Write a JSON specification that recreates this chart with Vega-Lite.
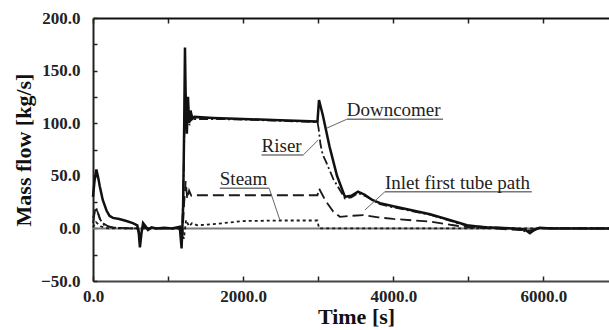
{
  "$schema": "https://vega.github.io/schema/vega-lite/v6.json",
  "width": 516,
  "height": 263,
  "autosize": "none",
  "padding": {"left": 93, "top": 18, "right": 0, "bottom": 49},
  "background": "white",
  "config": {
    "view": {"stroke": null},
    "font": "Liberation Serif",
    "axis": {
      "labelFont": "Liberation Serif",
      "titleFont": "Liberation Serif",
      "labelFontWeight": "bold",
      "titleFontWeight": "bold",
      "labelColor": "#222",
      "titleColor": "#111",
      "domainColor": "#222",
      "domainWidth": 2,
      "tickColor": "#222",
      "tickWidth": 1.5,
      "grid": false,
      "labelFlush": false,
      "labelOverlap": false
    }
  },
  "datasets": {
    "series": [
      {"t": 0, "v": 30, "s": "Downcomer"}, {"t": 20, "v": 45, "s": "Downcomer"}, {"t": 45, "v": 56, "s": "Downcomer"}, {"t": 70, "v": 48, "s": "Downcomer"}, {"t": 90, "v": 40, "s": "Downcomer"}, {"t": 130, "v": 27, "s": "Downcomer"}, {"t": 180, "v": 17, "s": "Downcomer"}, {"t": 220, "v": 12, "s": "Downcomer"}, {"t": 265, "v": 10, "s": "Downcomer"}, {"t": 350, "v": 9, "s": "Downcomer"}, {"t": 445, "v": 7, "s": "Downcomer"}, {"t": 530, "v": 5, "s": "Downcomer"}, {"t": 590, "v": 3, "s": "Downcomer"}, {"t": 610, "v": -5, "s": "Downcomer"}, {"t": 625, "v": -18, "s": "Downcomer"}, {"t": 645, "v": -5, "s": "Downcomer"}, {"t": 667, "v": 5, "s": "Downcomer"}, {"t": 700, "v": 2, "s": "Downcomer"}, {"t": 733, "v": -1.5, "s": "Downcomer"}, {"t": 780, "v": 1, "s": "Downcomer"}, {"t": 844, "v": 0, "s": "Downcomer"}, {"t": 950, "v": 0.5, "s": "Downcomer"}, {"t": 1050, "v": 0, "s": "Downcomer"}, {"t": 1156, "v": 1.5, "s": "Downcomer"}, {"t": 1180, "v": -19, "s": "Downcomer"}, {"t": 1200, "v": 20, "s": "Downcomer"}, {"t": 1215, "v": 100, "s": "Downcomer"}, {"t": 1225, "v": 172, "s": "Downcomer"}, {"t": 1235, "v": 120, "s": "Downcomer"}, {"t": 1250, "v": 90, "s": "Downcomer"}, {"t": 1265, "v": 125, "s": "Downcomer"}, {"t": 1280, "v": 100, "s": "Downcomer"}, {"t": 1300, "v": 112, "s": "Downcomer"}, {"t": 1320, "v": 104, "s": "Downcomer"}, {"t": 1350, "v": 106, "s": "Downcomer"}, {"t": 1600, "v": 105, "s": "Downcomer"}, {"t": 2000, "v": 104, "s": "Downcomer"}, {"t": 2400, "v": 103, "s": "Downcomer"}, {"t": 2800, "v": 102, "s": "Downcomer"}, {"t": 2990, "v": 101.5, "s": "Downcomer"}, {"t": 3010, "v": 122, "s": "Downcomer"}, {"t": 3060, "v": 108, "s": "Downcomer"}, {"t": 3150, "v": 78, "s": "Downcomer"}, {"t": 3250, "v": 50, "s": "Downcomer"}, {"t": 3356, "v": 30, "s": "Downcomer"}, {"t": 3440, "v": 31, "s": "Downcomer"}, {"t": 3530, "v": 35, "s": "Downcomer"}, {"t": 3620, "v": 32, "s": "Downcomer"}, {"t": 3720, "v": 27, "s": "Downcomer"}, {"t": 3823, "v": 24, "s": "Downcomer"}, {"t": 4000, "v": 21, "s": "Downcomer"}, {"t": 4200, "v": 18, "s": "Downcomer"}, {"t": 4490, "v": 13.5, "s": "Downcomer"}, {"t": 4750, "v": 8, "s": "Downcomer"}, {"t": 4982, "v": 3, "s": "Downcomer"}, {"t": 5200, "v": 1, "s": "Downcomer"}, {"t": 5596, "v": 0, "s": "Downcomer"}, {"t": 5750, "v": -1, "s": "Downcomer"}, {"t": 5820, "v": -4.5, "s": "Downcomer"}, {"t": 5880, "v": -1, "s": "Downcomer"}, {"t": 5950, "v": 0.5, "s": "Downcomer"}, {"t": 6100, "v": 0, "s": "Downcomer"}, {"t": 6873, "v": 0, "s": "Downcomer"},

      {"t": 0, "v": 10, "s": "Riser"}, {"t": 40, "v": 20, "s": "Riser"}, {"t": 70, "v": 14, "s": "Riser"}, {"t": 100, "v": 8, "s": "Riser"}, {"t": 150, "v": 3, "s": "Riser"}, {"t": 250, "v": 1, "s": "Riser"}, {"t": 400, "v": 0, "s": "Riser"}, {"t": 600, "v": 0, "s": "Riser"}, {"t": 625, "v": -8, "s": "Riser"}, {"t": 660, "v": 2, "s": "Riser"}, {"t": 700, "v": 0, "s": "Riser"}, {"t": 1150, "v": 0, "s": "Riser"}, {"t": 1185, "v": -12, "s": "Riser"}, {"t": 1210, "v": 60, "s": "Riser"}, {"t": 1228, "v": 140, "s": "Riser"}, {"t": 1245, "v": 95, "s": "Riser"}, {"t": 1265, "v": 118, "s": "Riser"}, {"t": 1285, "v": 98, "s": "Riser"}, {"t": 1310, "v": 108, "s": "Riser"}, {"t": 1350, "v": 104, "s": "Riser"}, {"t": 1600, "v": 104, "s": "Riser"}, {"t": 2000, "v": 103.5, "s": "Riser"}, {"t": 2400, "v": 102.5, "s": "Riser"}, {"t": 2800, "v": 101.5, "s": "Riser"}, {"t": 2990, "v": 101, "s": "Riser"}, {"t": 3005, "v": 95, "s": "Riser"}, {"t": 3030, "v": 80, "s": "Riser"}, {"t": 3060, "v": 70, "s": "Riser"}, {"t": 3100, "v": 64, "s": "Riser"}, {"t": 3200, "v": 47, "s": "Riser"}, {"t": 3356, "v": 28.5, "s": "Riser"}, {"t": 3440, "v": 29.5, "s": "Riser"}, {"t": 3530, "v": 33.5, "s": "Riser"}, {"t": 3620, "v": 31, "s": "Riser"}, {"t": 3823, "v": 23, "s": "Riser"}, {"t": 4000, "v": 20, "s": "Riser"}, {"t": 4490, "v": 13, "s": "Riser"}, {"t": 4982, "v": 2.5, "s": "Riser"}, {"t": 5596, "v": 0, "s": "Riser"}, {"t": 5820, "v": -4, "s": "Riser"}, {"t": 5950, "v": 0.5, "s": "Riser"}, {"t": 6873, "v": 0, "s": "Riser"},

      {"t": 0, "v": 5, "s": "Inlet first tube path"}, {"t": 30, "v": 19, "s": "Inlet first tube path"}, {"t": 60, "v": 16, "s": "Inlet first tube path"}, {"t": 90, "v": 9, "s": "Inlet first tube path"}, {"t": 130, "v": 5, "s": "Inlet first tube path"}, {"t": 200, "v": 2, "s": "Inlet first tube path"}, {"t": 300, "v": 0.5, "s": "Inlet first tube path"}, {"t": 600, "v": 0, "s": "Inlet first tube path"}, {"t": 630, "v": -6, "s": "Inlet first tube path"}, {"t": 670, "v": 2, "s": "Inlet first tube path"}, {"t": 720, "v": 0, "s": "Inlet first tube path"}, {"t": 1170, "v": 0, "s": "Inlet first tube path"}, {"t": 1190, "v": -8, "s": "Inlet first tube path"}, {"t": 1215, "v": 25, "s": "Inlet first tube path"}, {"t": 1235, "v": 45, "s": "Inlet first tube path"}, {"t": 1255, "v": 28, "s": "Inlet first tube path"}, {"t": 1280, "v": 36, "s": "Inlet first tube path"}, {"t": 1310, "v": 31, "s": "Inlet first tube path"}, {"t": 1350, "v": 31.5, "s": "Inlet first tube path"}, {"t": 2000, "v": 31.5, "s": "Inlet first tube path"}, {"t": 2990, "v": 31.5, "s": "Inlet first tube path"}, {"t": 3010, "v": 38, "s": "Inlet first tube path"}, {"t": 3100, "v": 26, "s": "Inlet first tube path"}, {"t": 3200, "v": 16, "s": "Inlet first tube path"}, {"t": 3289, "v": 11, "s": "Inlet first tube path"}, {"t": 3450, "v": 12, "s": "Inlet first tube path"}, {"t": 3600, "v": 12.7, "s": "Inlet first tube path"}, {"t": 3800, "v": 10.5, "s": "Inlet first tube path"}, {"t": 4000, "v": 9, "s": "Inlet first tube path"}, {"t": 4490, "v": 6.4, "s": "Inlet first tube path"}, {"t": 4800, "v": 3, "s": "Inlet first tube path"}, {"t": 5000, "v": 1, "s": "Inlet first tube path"}, {"t": 5300, "v": 0, "s": "Inlet first tube path"}, {"t": 5820, "v": -2, "s": "Inlet first tube path"}, {"t": 5950, "v": 0, "s": "Inlet first tube path"}, {"t": 6873, "v": 0, "s": "Inlet first tube path"},

      {"t": 0, "v": 1, "s": "Steam"}, {"t": 40, "v": 6, "s": "Steam"}, {"t": 100, "v": 2, "s": "Steam"}, {"t": 200, "v": 0, "s": "Steam"}, {"t": 1180, "v": 0, "s": "Steam"}, {"t": 1210, "v": -10, "s": "Steam"}, {"t": 1240, "v": 8, "s": "Steam"}, {"t": 1280, "v": 2, "s": "Steam"}, {"t": 1320, "v": 5, "s": "Steam"}, {"t": 1387, "v": 3, "s": "Steam"}, {"t": 1600, "v": 4, "s": "Steam"}, {"t": 1800, "v": 5.5, "s": "Steam"}, {"t": 2000, "v": 7, "s": "Steam"}, {"t": 2500, "v": 7.5, "s": "Steam"}, {"t": 2990, "v": 7.5, "s": "Steam"}, {"t": 3010, "v": 0, "s": "Steam"}, {"t": 6873, "v": 0, "s": "Steam"}
    ],
    "labels": [
      {"label": "Downcomer", "x": 3379, "x2": 4663, "y": 103.7, "lx": 3112, "ly": 95.2},
      {"label": "Riser", "x": 2245, "x2": 2800, "y": 69.8, "lx": 3000, "ly": 84},
      {"label": "Steam", "x": 1689, "x2": 2347, "y": 38.1, "lx": 2489, "ly": 8},
      {"label": "Inlet first tube path", "x": 3889, "x2": 5845, "y": 34.9, "lx": 3622, "ly": 17.5}
    ],
    "leaders": [
      {"x": 3379, "y": 103.7, "lx": 3112, "ly": 95.2},
      {"x": 2800, "y": 69.8, "lx": 3000, "ly": 84},
      {"x": 2347, "y": 38.1, "lx": 2489, "ly": 8},
      {"x": 3889, "y": 34.9, "lx": 3622, "ly": 17.5}
    ]
  },
  "resolve": {"axis": {"x": "independent", "y": "independent"}},
  "layer": [
    {
      "data": {"values": [{"z": 0}]},
      "mark": {"type": "rule", "color": "#7a7a7a", "strokeWidth": 2},
      "encoding": {
        "y": {"field": "z", "type": "quantitative", "scale": {"domain": [-50, 200], "nice": false},
          "axis": {"orient": "left", "values": [-50, -25, 0, 25, 50, 75, 100, 125, 150, 175, 200],
            "labelExpr": "datum.value % 50 === 0 ? format(datum.value, '.1f') : ''",
            "labelFontSize": 17, "tickSize": -4, "labelPadding": 17,
            "title": "Mass flow [kg/s]", "titleFontSize": 22, "titlePadding": 5}}
      }
    },
    {
      "data": {"name": "series"},
      "transform": [{"filter": "datum.s !== 'Downcomer'"}],
      "mark": {"type": "line", "color": "#1a1a1a", "strokeWidth": 1.8},
      "encoding": {
        "x": {"field": "t", "type": "quantitative", "scale": {"domain": [0, 6873], "nice": false},
          "axis": {"orient": "bottom", "values": [0, 1000, 2000, 3000, 4000, 5000, 6000],
            "labelExpr": "datum.value % 2000 === 0 ? format(datum.value, '.1f') : ''",
            "labelFontSize": 17, "tickSize": -5, "labelPadding": 12,
            "title": "Time [s]", "titleFontSize": 22, "titlePadding": 2, "titleX": 263, "domainColor": "#444"}},
        "y": {"field": "v", "type": "quantitative", "scale": {"domain": [-50, 200], "nice": false}, "axis": null},
        "strokeDash": {"field": "s", "type": "nominal", "legend": null,
          "scale": {"domain": ["Riser", "Inlet first tube path", "Steam"], "range": [[9, 3, 2, 3], [11, 5], [3, 3]]}},
        "detail": {"field": "s"}
      }
    },
    {
      "data": {"name": "series"},
      "transform": [{"filter": "datum.s === 'Downcomer'"}],
      "mark": {"type": "line", "color": "#111", "strokeWidth": 2.5},
      "encoding": {
        "x": {"field": "t", "type": "quantitative", "scale": {"domain": [0, 6873], "nice": false}, "axis": null},
        "y": {"field": "v", "type": "quantitative", "scale": {"domain": [-50, 200], "nice": false}, "axis": null}
      }
    },
    {
      "data": {"name": "labels"},
      "mark": {"type": "rule", "color": "#777", "strokeWidth": 1.5},
      "encoding": {
        "x": {"field": "x", "type": "quantitative", "scale": {"domain": [0, 6873], "nice": false},
          "axis": {"orient": "top", "values": [0, 1000, 2000, 3000, 4000, 5000, 6000], "labels": false,
            "tickSize": -5, "title": null, "domainColor": "#111"}},
        "x2": {"field": "x2"},
        "y": {"field": "y", "type": "quantitative", "scale": {"domain": [-50, 200], "nice": false}, "axis": null}
      }
    },
    {
      "data": {"name": "leaders"},
      "mark": {"type": "rule", "color": "#666", "strokeWidth": 1},
      "encoding": {
        "x": {"field": "x", "type": "quantitative", "scale": {"domain": [0, 6873], "nice": false}, "axis": null},
        "x2": {"field": "lx"},
        "y": {"field": "y", "type": "quantitative", "scale": {"domain": [-50, 200], "nice": false}, "axis": null},
        "y2": {"field": "ly"}
      }
    },
    {
      "data": {"name": "labels"},
      "mark": {"type": "text", "align": "left", "baseline": "alphabetic", "font": "Liberation Serif", "fontSize": 19, "color": "#222", "dy": -3},
      "encoding": {
        "x": {"field": "x", "type": "quantitative", "scale": {"domain": [0, 6873], "nice": false}, "axis": null},
        "y": {"field": "y", "type": "quantitative", "scale": {"domain": [-50, 200], "nice": false}, "axis": null},
        "text": {"field": "label"}
      }
    }
  ]
}
